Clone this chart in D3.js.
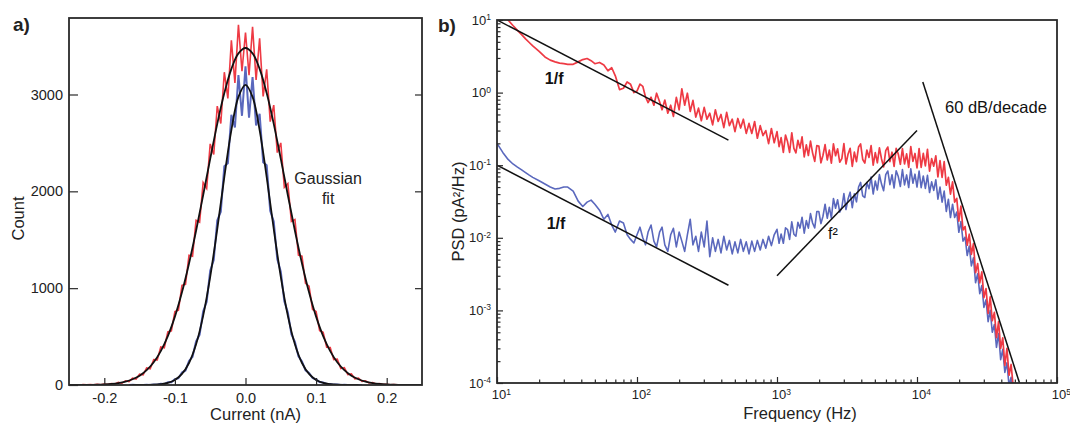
<!DOCTYPE html>
<html>
<head>
<meta charset="utf-8">
<script src="https://cdn.jsdelivr.net/npm/d3@7"></script>
<style>
	body { margin: 0; background: #fff; }
	svg { font-family: "Liberation Sans", Arial, sans-serif; }
	.axis line { stroke: #2a2a2a; stroke-width: 1.2; }
	.axis text { fill: #222; }
</style>
</head>
<body>
<svg id="chart" width="1070" height="424"></svg>
<script>
// ---------- panel a: current histograms (bins of 0.005 nA) ----------
const binWidth = 0.005;
const redBinStart = -0.25;
const redCounts = [
	2, 0, 3, 0, 4, 2, 5, 1, 6, 2, 9, 5, 16, 10, 27, 19, 44, 36, 71, 62,
	112, 104, 176, 168, 262, 259, 392, 385, 548, 560, 758, 772, 1030, 1040, 1340, 1330, 1700, 1680, 2090, 2030,
	2490, 2380, 2880, 2700, 3230, 2960, 3560, 3120, 3720, 3240, 3640, 3200, 3700, 3150, 3580, 2980, 3260, 2720, 2890, 2400,
	2500, 2040, 2080, 1690, 1710, 1340, 1330, 1050, 1020, 780, 760, 562, 545, 390, 388, 262, 268, 171, 180, 108,
	115, 64, 70, 38, 42, 21, 26, 11, 15, 5, 8, 2, 5, 1, 3, 0, 2, 0, 1, 0, 1
];
const blueBinStart = -0.165;
const blueCounts = [
	0, 2, 0, 1, 0, 2, 1, 5, 3, 12, 10, 28, 29, 60, 70, 128, 150, 248, 292, 450,
	520, 760, 860, 1180, 1290, 1700, 1790, 2260, 2290, 2790, 2660, 3200, 2780, 3290, 2760, 3180, 2680, 2800, 2300, 2270,
	1800, 1690, 1300, 1170, 865, 750, 525, 445, 295, 244, 152, 124, 72, 57, 30, 25, 11, 10, 4, 4,
	1, 2, 0, 1, 0, 1, 0
];
// gaussian fits, every 0.01 nA
const fitStep = 0.01;
const redFitStart = -0.25;
const redFit = [
	0, 0, 1, 2, 3, 6, 11, 20, 35, 59, 96, 153, 235, 350, 505, 706, 957, 1255, 1593, 1960,
	2335, 2697, 3015, 3265, 3425, 3480, 3425, 3265, 3015, 2697, 2335, 1960, 1593, 1255, 957, 706, 505, 350, 235, 153,
	96, 59, 35, 20, 11, 6, 3, 2, 1, 0, 0
];
const blueFitStart = -0.16;
const blueFit = [
	0, 0, 1, 3, 9, 22, 52, 114, 227, 420, 714, 1117, 1611, 2147, 2633, 2976, 3100,
	2976, 2633, 2147, 1611, 1117, 714, 420, 227, 114, 52, 22, 9, 3, 1, 0, 0
];
const currentTicks = [-0.2, -0.1, 0, 0.1, 0.2];
const currentTickLabels = ["-0.2", "-0.1", "0.0", "0.1", "0.2"];
const countTicks = [0, 1000, 2000, 3000];

// ---------- panel b: power spectral density ----------
const psdFreq = [
	10, 11, 12, 13, 14, 15, 16, 17, 18, 20, 22, 24, 26, 28, 30, 32, 35, 38, 41, 44, 47, 50, 54, 58, 62, 66, 70, 75, 80, 85, 90, 95, 100,
	105, 110, 115, 120, 126, 132, 138, 145, 151, 158, 166, 174, 182, 191, 200, 209, 219, 229, 240, 251, 263, 275, 288, 302, 316, 331, 347, 363, 380, 398,
	417, 437, 457, 479, 501, 525, 550, 575, 603, 631, 661, 692, 724, 759, 794, 832, 871, 912, 955,
	1000, 1035, 1070, 1110, 1150, 1190, 1230, 1275, 1320, 1365, 1410, 1460, 1510, 1565, 1620, 1675, 1735, 1795, 1860, 1925,
	1990, 2060, 2130, 2205, 2285, 2365, 2445, 2530, 2620, 2710, 2805, 2905, 3005, 3110, 3220, 3330, 3450, 3570, 3695, 3825,
	3955, 4095, 4240, 4385, 4540, 4700, 4865, 5035, 5210, 5390, 5580, 5775, 5980, 6190, 6405, 6630, 6860, 7100, 7350, 7605,
	7870, 8145, 8430, 8725, 9030, 9350, 9675, 10000,
	10350, 10710, 11090, 11475, 11880, 12295, 12725, 13170, 13630, 14105, 14600, 15110, 15640, 16190, 16755, 17340, 17950, 18575, 19225, 19900,
	20595, 21315, 22060, 22835, 23630, 24460, 25315, 26200, 27120, 28070, 29050, 30065, 31120, 32210, 33335, 34500, 35710, 36960, 38250, 39590,
	40975, 42410, 43895, 45430, 47020, 48665, 50000
];
const psdRed = [
	14, 12, 10, 8.4, 7.2, 6.3, 5.5, 4.9, 4.4, 3.7, 3.1, 2.8, 2.65, 2.55, 2.5, 2.45, 2.45, 2.65, 2.85, 2.95, 2.75, 2.5, 2.6, 2.4, 2.0, 2.2, 1.7, 1.1, 1.15, 1.4, 1.3, 1.0, 1.05,
	1.31, 1.22, 0.87, 0.73, 0.865, 0.67, 0.98, 0.75, 0.58, 0.79, 0.52, 0.67, 0.47, 0.86, 0.58, 1.13, 0.67, 0.98, 0.55, 0.78, 0.46, 0.61, 0.41, 0.625, 0.43, 0.52, 0.36, 0.58, 0.4, 0.5,
	0.33, 0.535, 0.35, 0.43, 0.29, 0.44, 0.325, 0.43, 0.274, 0.376, 0.274, 0.4, 0.235, 0.35, 0.256, 0.3, 0.198, 0.32, 0.204,
	0.29, 0.18, 0.24, 0.15, 0.26, 0.21, 0.15, 0.28, 0.17, 0.148, 0.22, 0.172, 0.246, 0.13, 0.19, 0.136, 0.214, 0.148, 0.113, 0.186,
	0.184, 0.108, 0.137, 0.192, 0.118, 0.161, 0.107, 0.197, 0.135, 0.168, 0.11, 0.123, 0.199, 0.104, 0.143, 0.171, 0.096, 0.151, 0.112, 0.178,
	0.196, 0.12, 0.107, 0.162, 0.128, 0.186, 0.1, 0.149, 0.108, 0.173, 0.122, 0.095, 0.159, 0.178, 0.112, 0.151, 0.096, 0.17, 0.142, 0.103,
	0.169, 0.104, 0.143, 0.093, 0.18, 0.113, 0.145, 0.092,
	0.169, 0.093, 0.146, 0.098, 0.165, 0.083, 0.123, 0.097, 0.135, 0.069, 0.116, 0.068, 0.112, 0.053, 0.068, 0.04, 0.059, 0.031, 0.035, 0.017,
	0.0274, 0.0128, 0.0143, 0.0079, 0.0112, 0.0059, 0.0083, 0.0033, 0.0044, 0.0024, 0.0034, 0.0015, 0.002, 0.00091, 0.00154, 0.00072, 0.00094, 0.00042, 0.0007, 0.0003,
	0.00042, 0.000175, 0.0003, 0.000128, 0.00018, 0.000088, 0.00009
];
const psdBlue = [
	0.2, 0.15, 0.12, 0.104, 0.094, 0.086, 0.079, 0.073, 0.068, 0.061, 0.055, 0.05, 0.047, 0.048, 0.05, 0.05, 0.044, 0.032, 0.027, 0.031, 0.033, 0.029, 0.024, 0.018, 0.021, 0.015, 0.012, 0.017, 0.016, 0.011, 0.0095, 0.0085, 0.011,
	0.014, 0.01, 0.008, 0.012, 0.015, 0.009, 0.0075, 0.012, 0.014, 0.008, 0.0065, 0.011, 0.0135, 0.0075, 0.012, 0.009, 0.0065, 0.011, 0.018, 0.008, 0.0105, 0.0065, 0.012, 0.0075, 0.017, 0.0055, 0.01, 0.0065, 0.0095, 0.0062,
	0.0105, 0.0068, 0.0092, 0.006, 0.0088, 0.0062, 0.0095, 0.0065, 0.0088, 0.006, 0.009, 0.0065, 0.0092, 0.0068, 0.0095, 0.0072, 0.0105, 0.0078, 0.011,
	0.0131, 0.0084, 0.0113, 0.0084, 0.0137, 0.013, 0.0095, 0.0166, 0.0112, 0.0105, 0.0163, 0.0136, 0.0192, 0.0116, 0.0173, 0.0136, 0.0215, 0.016, 0.0137, 0.023,
	0.023, 0.0157, 0.0198, 0.029, 0.0186, 0.0264, 0.0187, 0.0348, 0.0255, 0.0334, 0.0225, 0.0262, 0.0407, 0.0245, 0.0345, 0.0425, 0.026, 0.0405, 0.0313, 0.05,
	0.058, 0.0378, 0.0359, 0.0576, 0.0475, 0.0686, 0.0401, 0.0605, 0.0456, 0.0743, 0.0549, 0.0446, 0.0743, 0.0832, 0.054, 0.0739, 0.0485, 0.0838, 0.0697, 0.0509,
	0.0871, 0.0536, 0.0735, 0.0492, 0.0891, 0.0565, 0.0752, 0.05,
	0.083, 0.049, 0.071, 0.048, 0.0725, 0.042, 0.059, 0.045, 0.063, 0.034, 0.05, 0.031, 0.044, 0.023, 0.034, 0.019, 0.029, 0.019, 0.0227, 0.0119,
	0.0168, 0.009, 0.0102, 0.0057, 0.0077, 0.0041, 0.0053, 0.0024, 0.0032, 0.0017, 0.0022, 0.0011, 0.0014, 0.0007, 0.001, 0.0005, 0.00064, 0.00031, 0.00048, 0.00021,
	0.00029, 0.00014, 0.00019, 0.000092, 0.00012, 0.000067, 0.00006
];
// guide lines, [frequency, psd] end points
const redOneOverF = [[10, 10], [450, 0.222]];
const blueOneOverF = [[10, 0.1], [450, 0.00222]];
const fSquared = [[1000, 0.003], [10000, 0.3]];
const rollOff = [[11000, 1.4], [54000, 0.0001]];
const freqTicks = [1e1, 1e2, 1e3, 1e4, 1e5];
const freqTickExp = ["1", "2", "3", "4", "5"];
const psdTicks = [1e1, 1e0, 1e-1, 1e-2, 1e-3, 1e-4];
const psdTickExp = ["1", "0", "-1", "-2", "-3", "-4"];

const red = "#ee3a44";
const blue = "#5a68bd";
const font = "'Liberation Sans', Arial, sans-serif";

let svg = d3.select("#chart");

// ================= panel a =================
let pa = {left: 69, top: 18, right: 422, bottom: 385};
let xA = d3.scaleLinear().domain([-0.25, 0.25]).range([pa.left, pa.right]);
let yA = d3.scaleLinear().domain([0, 3790]).range([pa.bottom, pa.top]);

svg.append("clipPath").attr("id", "clipA")
	.append("rect")
	.attr("x", pa.left).attr("y", pa.top)
	.attr("width", pa.right - pa.left).attr("height", pa.bottom - pa.top);

let gA = svg.append("g").attr("clip-path", "url(#clipA)");

let histLine = (start, step) => d3.line()
	.x((d, i) => xA(start + i * step))
	.y(d => yA(d));

gA.append("path")
	.datum(redCounts)
	.attr("fill", "none").attr("stroke", red).attr("stroke-width", 1.6)
	.attr("d", histLine(redBinStart, binWidth));
gA.append("path")
	.datum(blueCounts)
	.attr("fill", "none").attr("stroke", blue).attr("stroke-width", 2)
	.attr("d", histLine(blueBinStart, binWidth));
gA.append("path")
	.datum(redFit)
	.attr("fill", "none").attr("stroke", "#111").attr("stroke-width", 1.8)
	.attr("d", histLine(redFitStart, fitStep).curve(d3.curveCatmullRom));
gA.append("path")
	.datum(blueFit)
	.attr("fill", "none").attr("stroke", "#111").attr("stroke-width", 1.8)
	.attr("d", histLine(blueFitStart, fitStep).curve(d3.curveCatmullRom));

// axes
let axA = svg.append("g").attr("class", "axis")
	.attr("transform", "translate(0," + pa.bottom + ")")
	.call(d3.axisBottom(xA).tickValues(currentTicks)
		.tickFormat((d, i) => currentTickLabels[i])
		.tickSizeInner(-7).tickSizeOuter(0).tickPadding(8));
let ayA = svg.append("g").attr("class", "axis")
	.attr("transform", "translate(" + pa.left + ",0)")
	.call(d3.axisLeft(yA).tickValues(countTicks).tickFormat(d3.format("d"))
		.tickSizeInner(-9).tickSizeOuter(0).tickPadding(6));
let ayA2 = svg.append("g").attr("class", "axis")
	.attr("transform", "translate(" + pa.right + ",0)")
	.call(d3.axisRight(yA).tickValues(countTicks.slice(1)).tickFormat("")
		.tickSizeInner(-7).tickSizeOuter(0));
[axA, ayA, ayA2].forEach(g => {
	g.attr("font-family", font).attr("font-size", 14.5);
	g.select(".domain").remove();
});

svg.append("rect")
	.attr("x", pa.left).attr("y", pa.top)
	.attr("width", pa.right - pa.left).attr("height", pa.bottom - pa.top)
	.attr("fill", "none").attr("stroke", "#2a2a2a").attr("stroke-width", 1.8);

svg.append("text")
	.attr("transform", "translate(24," + ((pa.top + pa.bottom) / 2 + 17) + ") rotate(-90)")
	.attr("text-anchor", "middle").attr("font-size", 16.5).attr("fill", "#222")
	.text("Count");
svg.append("text")
	.attr("x", xA(0) + 10).attr("y", 420)
	.attr("text-anchor", "middle").attr("font-size", 16.5).attr("fill", "#222")
	.text("Current (nA)");
svg.append("text")
	.attr("x", xA(0.117)).attr("y", yA(2080))
	.attr("text-anchor", "middle").attr("font-size", 16).attr("fill", "#222")
	.text("Gaussian");
svg.append("text")
	.attr("x", xA(0.117)).attr("y", yA(1870))
	.attr("text-anchor", "middle").attr("font-size", 16).attr("fill", "#222")
	.text("fit");
svg.append("text")
	.attr("x", 13).attr("y", 31)
	.attr("font-size", 19).attr("font-weight", "bold").attr("fill", "#222")
	.text("a)");

// ================= panel b =================
let pb = {left: 497, top: 20, right: 1057, bottom: 383};
let xB = d3.scaleLog().domain([10, 1e5]).range([pb.left, pb.right]);
let yB = d3.scaleLog().domain([1e-4, 10]).range([pb.bottom, pb.top]);

svg.append("clipPath").attr("id", "clipB")
	.append("rect")
	.attr("x", pb.left).attr("y", pb.top)
	.attr("width", pb.right - pb.left).attr("height", pb.bottom - pb.top);

let gB = svg.append("g").attr("clip-path", "url(#clipB)");

let psdLine = d3.line()
	.x((d, i) => xB(psdFreq[i]))
	.y(d => yB(d));

gB.append("path")
	.datum(psdBlue)
	.attr("fill", "none").attr("stroke", blue).attr("stroke-width", 1.6)
	.attr("stroke-linejoin", "round")
	.attr("d", psdLine);
gB.append("path")
	.datum(psdRed)
	.attr("fill", "none").attr("stroke", red).attr("stroke-width", 1.7)
	.attr("stroke-linejoin", "round")
	.attr("d", psdLine);

let guide = d3.line().x(d => xB(d[0])).y(d => yB(d[1]));
[redOneOverF, blueOneOverF, fSquared, rollOff].forEach(seg => {
	gB.append("path")
		.datum(seg)
		.attr("fill", "none").attr("stroke", "#111").attr("stroke-width", 1.5)
		.attr("d", guide);
});

// minor log ticks
let minorX = xB.ticks().filter(d => freqTicks.indexOf(d) < 0);
let minorY = yB.ticks().filter(d => psdTicks.every(t => Math.abs(t - d) / t > 1e-6));

let mxB = svg.append("g").attr("class", "axis")
	.attr("transform", "translate(0," + pb.bottom + ")")
	.call(d3.axisBottom(xB).tickValues(minorX).tickFormat("").tickSizeInner(-3.5).tickSizeOuter(0));
let myB = svg.append("g").attr("class", "axis")
	.attr("transform", "translate(" + pb.left + ",0)")
	.call(d3.axisLeft(yB).tickValues(minorY).tickFormat("").tickSizeInner(-3.5).tickSizeOuter(0));
let axB = svg.append("g").attr("class", "axis")
	.attr("transform", "translate(0," + pb.bottom + ")")
	.call(d3.axisBottom(xB).tickValues(freqTicks).tickFormat("")
		.tickSizeInner(-6).tickSizeOuter(0).tickPadding(7));
let ayB = svg.append("g").attr("class", "axis")
	.attr("transform", "translate(" + pb.left + ",0)")
	.call(d3.axisLeft(yB).tickValues(psdTicks).tickFormat("")
		.tickSizeInner(-6).tickSizeOuter(0).tickPadding(6));
[mxB, myB, axB, ayB].forEach(g => {
	g.attr("font-family", font).attr("font-size", 13);
	g.select(".domain").remove();
});

// power-of-ten labels
axB.selectAll(".tick text").each(function (d, i) {
	let t = d3.select(this).text("10");
	t.append("tspan").attr("dy", "-0.55em").attr("font-size", 8.5).text(freqTickExp[i]);
});
axB.selectAll(".tick text").attr("dx", "0.3em");
ayB.selectAll(".tick text").each(function (d, i) {
	let t = d3.select(this).text("10");
	t.append("tspan").attr("dy", "-0.55em").attr("font-size", 8.5).text(psdTickExp[i]);
});

svg.append("rect")
	.attr("x", pb.left).attr("y", pb.top)
	.attr("width", pb.right - pb.left).attr("height", pb.bottom - pb.top)
	.attr("fill", "none").attr("stroke", "#2a2a2a").attr("stroke-width", 1.8);

svg.append("text")
	.attr("transform", "translate(464," + ((pb.top + pb.bottom) / 2 + 10) + ") rotate(-90)")
	.attr("text-anchor", "middle").attr("font-size", 16.5).attr("fill", "#222")
	.text("PSD (pA²/Hz)");
svg.append("text")
	.attr("x", 800).attr("y", 419)
	.attr("text-anchor", "middle").attr("font-size", 16.5).attr("fill", "#222")
	.text("Frequency (Hz)");

// annotations
let note = (f, p, txt, anchor, size, weight) => svg.append("text")
	.attr("x", xB(f)).attr("y", yB(p))
	.attr("text-anchor", anchor).attr("font-size", size)
	.attr("font-weight", weight).attr("fill", "#111")
	.text(txt);
note(25.6, 1.31, "1/f", "middle", 16, "bold");
note(26.4, 0.0132, "1/f", "middle", 16, "bold");
note(2512, 0.0096, "f²", "middle", 16, "normal");
note(15850, 0.52, "60 dB/decade", "start", 16.5, "normal");

svg.append("text")
	.attr("x", 438).attr("y", 32)
	.attr("font-size", 19).attr("font-weight", "bold").attr("fill", "#222")
	.text("b)");
</script>
</body>
</html>
